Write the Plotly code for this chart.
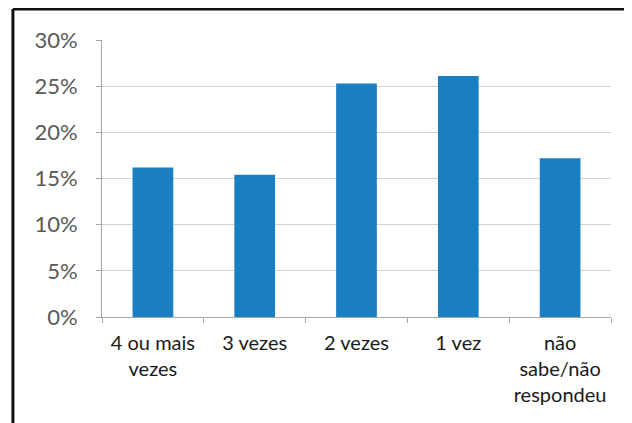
import plotly.graph_objects as go

categories = ["4 ou mais<br>vezes", "3 vezes", "2 vezes", "1 vez", "não<br>sabe/não<br>respondeu"]
values = [0.162, 0.154, 0.253, 0.261, 0.172]
y_ticks = [0, 0.05, 0.10, 0.15, 0.20, 0.25, 0.30]
y_tick_labels = ["0%", "5%", "10%", "15%", "20%", "25%", "30%"]

fig = go.Figure(
    go.Bar(
        x=categories,
        y=values,
        marker=dict(color="#1a7ec2", line=dict(width=0)),
        hoverinfo="skip",
    )
)

fig.update_layout(
    width=632,
    height=423,
    margin=dict(l=94, r=29, t=32, b=114),
    paper_bgcolor="white",
    plot_bgcolor="white",
    bargap=0.6,
    showlegend=False,
    font=dict(family="Lato, Open Sans, sans-serif"),
    shapes=[
        dict(type="line", xref="paper", yref="paper",
             x0=-0.175, x1=-0.175, y0=1.112, y1=-0.45,
             line=dict(color="#111111", width=3)),
        dict(type="line", xref="paper", yref="paper",
             x0=-0.175, x1=1.1, y0=1.112, y1=1.112,
             line=dict(color="#111111", width=3)),
    ],
)

fig.update_xaxes(
    automargin=False,
    tickangle=0,
    showline=True,
    linecolor="#a6a6a6",
    linewidth=1,
    ticks="outside",
    tickson="boundaries",
    ticklen=5,
    tickcolor="#a6a6a6",
    ticklabelstandoff=8,
    tickfont=dict(family="Lato, Open Sans, sans-serif", size=20, color="#1a1a1a"),
    showgrid=False,
    fixedrange=True,
)

fig.update_yaxes(
    automargin=False,
    range=[0, 0.30],
    tickvals=y_ticks,
    ticktext=y_tick_labels,
    showline=True,
    linecolor="#a6a6a6",
    linewidth=1,
    ticks="outside",
    ticklen=5,
    tickcolor="#a6a6a6",
    ticklabelstandoff=14,
    tickfont=dict(family="Lato, Open Sans, sans-serif", size=22, color="#595959"),
    showgrid=True,
    gridcolor="#d4d4d4",
    gridwidth=1,
    zeroline=False,
    fixedrange=True,
)

fig.write_html("out.html")
